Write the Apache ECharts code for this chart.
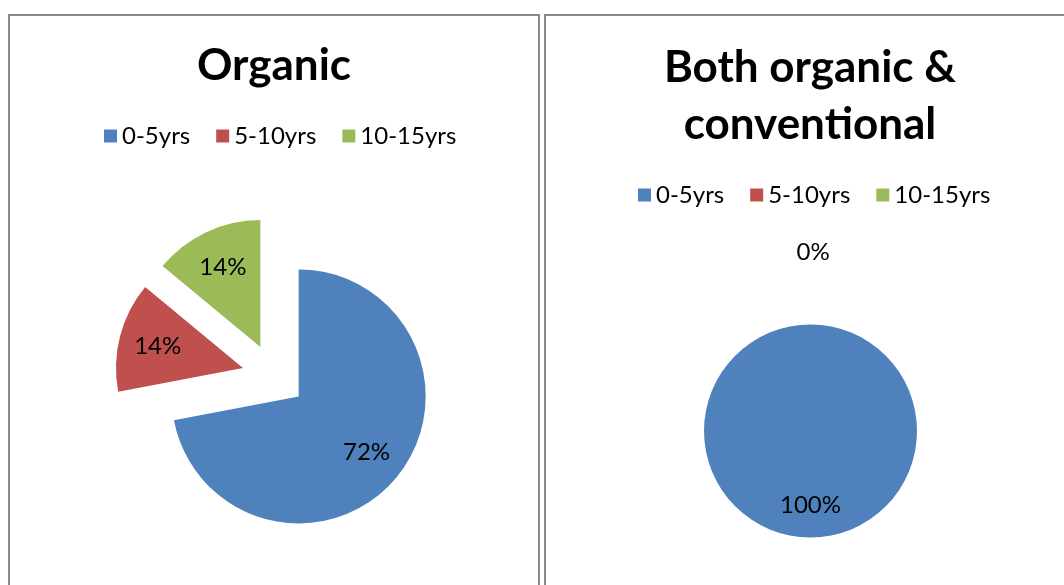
<!DOCTYPE html>
<html>
<head>
<meta charset="utf-8">
<script src="https://cdn.jsdelivr.net/npm/echarts@6/dist/echarts.min.js"></script>
<style>
  html, body { margin: 0; padding: 0; background: #fff; width: 1064px; height: 585px; overflow: hidden; }
  .panel { position: absolute; top: 14px; width: 532px; height: 620px; border: 2px solid #8a8a8a; box-sizing: border-box; background: #fff; }
  #left { left: 8px; }
  #right { left: 544px; }
  .chart { width: 528px; height: 616px; }
</style>
</head>
<body>
<div id="left" class="panel"><div id="organic" class="chart"></div></div>
<div id="right" class="panel"><div id="both" class="chart"></div></div>
<script>
const categories = ['0-5yrs', '5-10yrs', '10-15yrs']
const organicShares = [72, 14, 14]
const bothShares = [100, 0, 0]
const palette = ['#4F81BD', '#C0504D', '#9BBB59']

const FONT = 'Lato, "Open Sans", sans-serif'

// one excel-style pie: coloured sectors + a transparent twin that carries the labels
// (twin has an inner radius so "inside" labels sit at ~2/3 of the radius like Excel)
const buildOption = ({ title, shares, titleTop, legendTop, legendLeft, center, radius, explode }) => {
  const exploded = explode > 0
  const common = {
    type: 'pie',
    center,
    startAngle: 90,
    clockwise: true,
    animation: false,
    avoidLabelOverlap: false,
    selectedMode: exploded ? 'multiple' : false,
    selectedOffset: explode,
    emphasis: { disabled: true },
    labelLine: { show: false }
  }

  return {
    color: palette,
    title: {
      text: title,
      left: 'center',
      top: titleTop,
      textStyle: { fontFamily: FONT, fontSize: 44, fontWeight: 'bold', color: '#000', lineHeight: 57 }
    },
    legend: {
      left: legendLeft,
      top: legendTop,
      icon: 'rect',
      itemWidth: 13,
      itemHeight: 13,
      itemGap: 26,
      selectedMode: false,
      data: categories,
      textStyle: { fontFamily: FONT, fontSize: 24, color: '#000' }
    },
    series: [
      {
        ...common,
        name: 'sectors',
        radius,
        itemStyle: { borderWidth: 0 },
        label: { show: false },
        data: categories.map((name, i) => ({ name, value: shares[i], selected: exploded }))
      },
      {
        ...common,
        name: 'labels',
        radius: [radius * 0.34, radius],
        silent: true,
        legendHoverLink: false,
        itemStyle: { color: 'rgba(0,0,0,0)', borderWidth: 0 },
        label: {
          show: true,
          position: 'inside',
          formatter: '{d}%',
          fontFamily: FONT,
          fontSize: 24,
          color: '#000'
        },
        data: categories.map((name, i) => {
          const item = { name, value: shares[i], selected: exploded }
          if (shares[i] === 0) {
            // excel parks empty slices' labels above the pie
            item.label = { position: 'outside', distanceToLabelLine: 0, offset: [-14, 0] }
            item.labelLine = { show: false, length: 72, length2: 0 }
          }
          return item
        })
      }
    ]
  }
}

const organicChart = echarts.init(document.getElementById('organic'))
organicChart.setOption(buildOption({
  title: 'Organic',
  shares: organicShares,
  titleTop: 16,
  legendTop: 103,
  legendLeft: 89,
  center: [264, 360],
  radius: 127,
  explode: 32
}))

const bothChart = echarts.init(document.getElementById('both'))
bothChart.setOption(buildOption({
  title: 'Both organic &\nconventional',
  shares: bothShares,
  titleTop: 18,
  legendTop: 162,
  legendLeft: 87,
  center: [264.5, 415],
  radius: 106.5,
  explode: 0
}))
</script>
</body>
</html>
